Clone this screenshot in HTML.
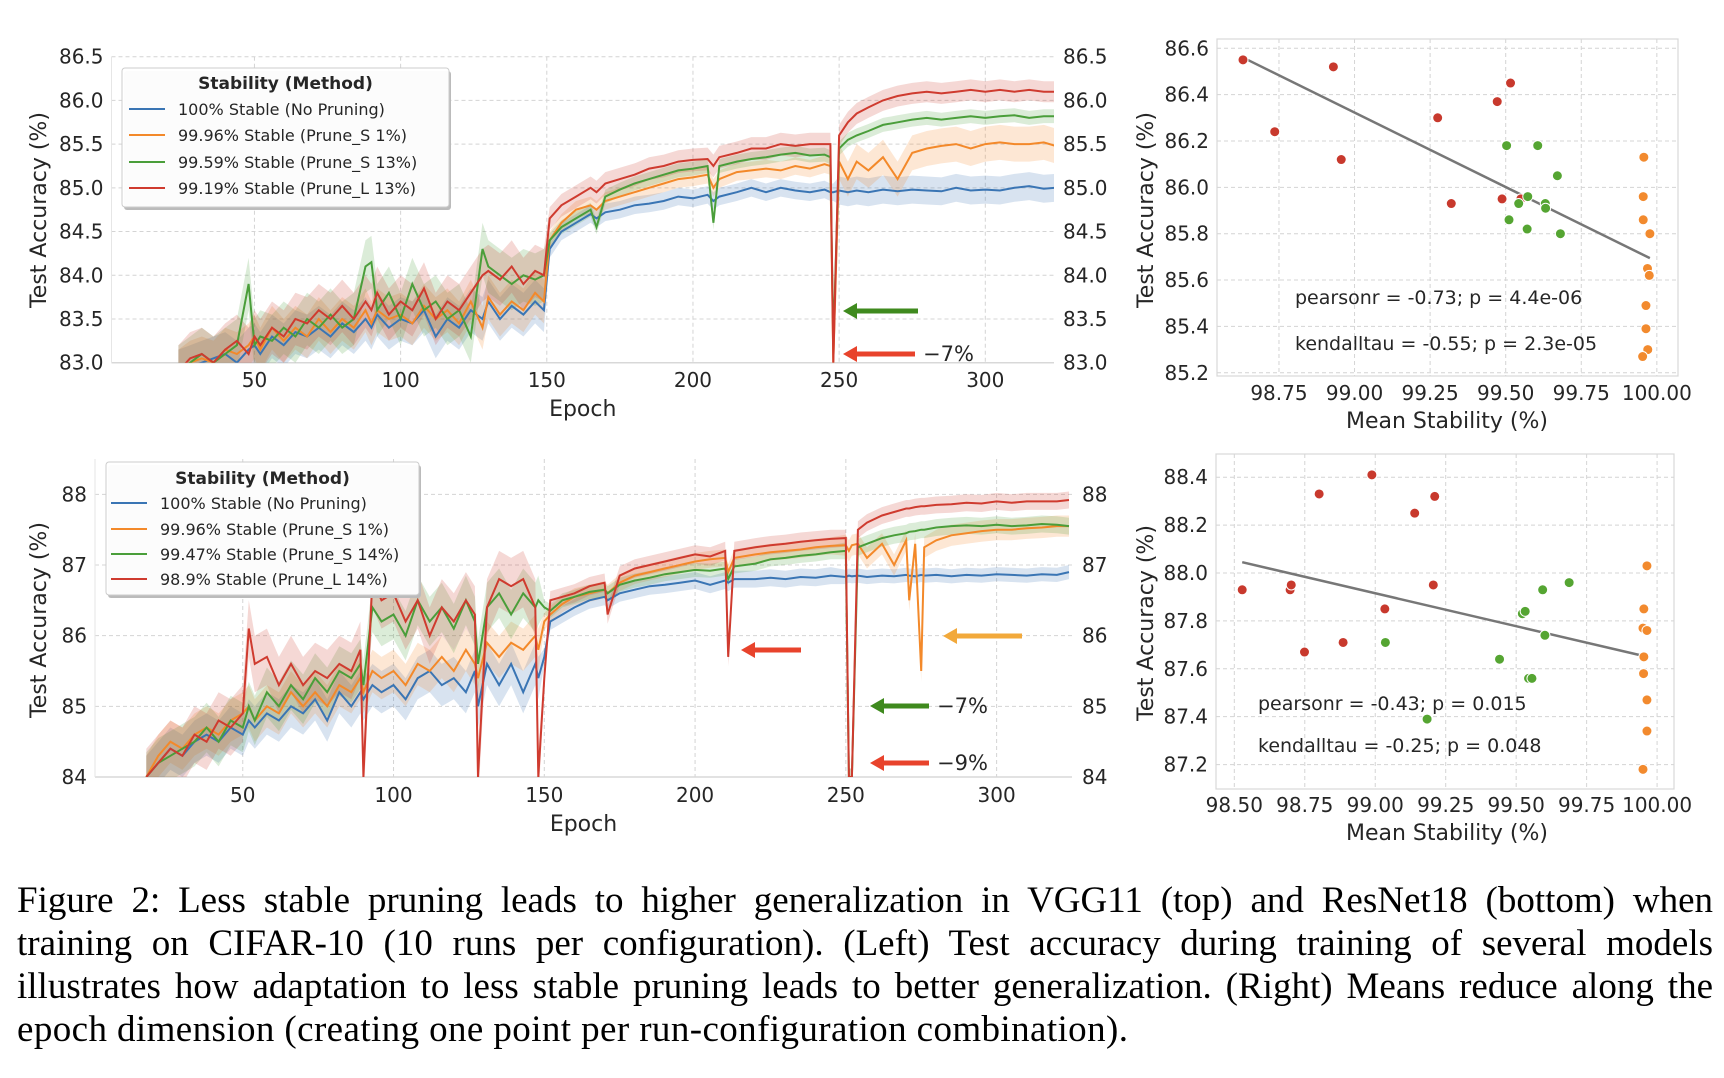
<!DOCTYPE html>
<html><head><meta charset="utf-8"><style>
html,body{margin:0;padding:0;background:#fff;}
#fig{position:absolute;left:0;top:0;}
.cap{position:absolute;left:17px;width:1696px;font-family:"Liberation Serif",serif;font-size:37px;line-height:43px;color:#000;white-space:nowrap;}
.just{text-align:justify;text-align-last:justify;white-space:normal;}
</style></head><body>
<svg id="fig" width="1724" height="880" xmlns="http://www.w3.org/2000/svg" font-family="DejaVu Sans, sans-serif"></svg>
<div class="cap just" style="top:879px">Figure 2: Less stable pruning leads to higher generalization in VGG11 (top) and ResNet18 (bottom) when</div>
<div class="cap just" style="top:922px">training on CIFAR-10 (10 runs per configuration). (Left) Test accuracy during training of several models</div>
<div class="cap just" style="top:965px">illustrates how adaptation to less stable pruning leads to better generalization. (Right) Means reduce along the</div>
<div class="cap" style="top:1008px;letter-spacing:0.4px">epoch dimension (creating one point per run-configuration combination).</div>
<script>
// ---------- DATA ----------
const colors=["#3a75b4","#f3892a","#4a9e3a","#cf3b2f"];
const topLegend=["100% Stable (No Pruning)","99.96% Stable (Prune_S 1%)","99.59% Stable (Prune_S 13%)","99.19% Stable (Prune_L 13%)"];
const botLegend=["100% Stable (No Pruning)","99.96% Stable (Prune_S 1%)","99.47% Stable (Prune_S 14%)","98.9% Stable (Prune_L 14%)"];
const topEpochs=[24,28,32,36,40,44,48,50,52,56,60,64,68,72,76,80,84,88,90,92,96,100,104,108,112,116,120,124,128,130,134,138,142,146,149,151,155,160,165,167,170,175,180,185,190,195,200,205,207,209,215,220,225,230,235,240,245,247,248,250,253,256,260,265,270,275,280,285,290,295,300,305,310,315,320,324];
const topBlue=[82.9,82.95,83.0,83.05,83.1,83.0,83.15,83.2,83.1,83.3,83.2,83.35,83.3,83.4,83.3,83.45,83.35,83.5,83.4,83.55,83.4,83.5,83.45,83.6,83.3,83.5,83.4,83.6,83.5,83.7,83.5,83.65,83.55,83.7,83.6,84.3,84.5,84.6,84.7,84.65,84.72,84.75,84.8,84.82,84.85,84.9,84.88,84.92,84.85,84.9,84.95,85.0,84.95,85.0,84.97,84.95,84.98,84.95,84.95,84.97,84.95,84.97,84.95,84.98,84.96,84.98,84.97,84.96,85.0,84.97,84.98,84.97,85.0,85.02,84.99,85.0];
const topOrange=[82.9,83.0,83.05,83.0,83.15,83.1,83.2,83.3,83.15,83.4,83.25,83.4,83.3,83.5,83.35,83.5,83.4,83.6,83.45,83.6,83.5,83.55,83.45,83.65,83.5,83.6,83.45,83.7,83.4,83.75,83.55,83.7,83.6,83.8,83.7,84.4,84.6,84.75,84.8,84.75,84.85,84.9,84.95,85.0,85.05,85.1,85.12,85.15,85.0,85.1,85.18,85.2,85.22,85.2,85.25,85.22,85.27,85.25,83.0,85.3,85.1,85.3,85.2,85.35,85.1,85.4,85.45,85.48,85.5,85.45,85.5,85.52,85.5,85.5,85.52,85.48];
const topGreen=[82.9,83.0,83.1,83.0,83.1,83.2,83.9,83.2,83.3,83.25,83.4,83.3,83.5,83.4,83.55,83.4,83.5,84.1,84.15,83.6,83.8,83.5,83.9,83.6,83.7,83.5,83.6,83.3,84.3,84.1,84.0,83.9,84.0,83.95,84.0,84.4,84.55,84.65,84.75,84.55,84.9,84.98,85.05,85.1,85.15,85.2,85.22,85.25,84.6,85.25,85.3,85.33,85.35,85.38,85.4,85.37,85.38,85.35,83.2,85.45,85.55,85.6,85.65,85.72,85.75,85.78,85.8,85.78,85.8,85.82,85.8,85.82,85.83,85.8,85.82,85.82];
const topRed=[82.9,83.05,83.1,83.0,83.15,83.25,83.1,83.3,83.2,83.4,83.3,83.5,83.45,83.6,83.5,83.65,83.5,83.7,83.6,83.8,83.55,83.7,83.6,83.85,83.5,83.7,83.6,83.8,84.0,84.05,83.95,84.1,83.9,84.05,84.0,84.65,84.8,84.9,85.0,84.95,85.05,85.1,85.15,85.22,85.25,85.3,85.32,85.33,85.25,85.35,85.4,85.45,85.45,85.5,85.48,85.5,85.5,85.5,83.0,85.6,85.75,85.85,85.92,86.0,86.05,86.08,86.1,86.08,86.1,86.12,86.1,86.12,86.1,86.12,86.1,86.1];
const topBandEarly=[0.25,0.25,0.3,0.3], topBandMid=[0.1,0.1,0.08,0.13], topBandLate=[0.16,0.2,0.08,0.12];
const topYTicks=[83.0,83.5,84.0,84.5,85.0,85.5,86.0,86.5];
const epochTicks=[50,100,150,200,250,300];

const botEpochs=[18,22,26,30,34,38,42,46,50,52,54,58,62,66,70,74,78,82,86,89,90,93,96,100,104,108,112,116,120,124,127,128,131,135,139,143,147,148,150,152,156,160,165,170,171,175,180,185,190,195,200,205,210,211,213,220,225,230,235,240,245,250,251,252,254,257,262,266,270,271,273,275,276,280,285,290,295,300,305,310,315,320,324];
const botBlue=[84.0,84.2,84.4,84.3,84.5,84.6,84.5,84.7,84.6,84.8,84.7,84.9,84.8,85.0,84.9,85.1,84.8,85.2,85.0,85.2,85.1,85.3,85.2,85.3,85.1,85.4,85.5,85.3,85.4,85.2,85.5,85.0,85.6,85.3,85.6,85.2,85.6,85.4,85.7,86.2,86.3,86.4,86.5,86.55,86.5,86.6,86.65,86.7,86.72,86.75,86.78,86.72,86.78,86.75,86.8,86.8,86.82,86.8,86.83,86.82,86.85,86.83,86.85,86.84,86.85,86.83,86.85,86.84,86.86,86.85,86.84,86.86,86.85,86.86,86.84,86.86,86.85,86.87,86.86,86.85,86.87,86.86,86.9];
const botOrange=[84.0,84.3,84.5,84.4,84.6,84.7,84.6,84.8,84.9,85.0,84.8,85.0,84.9,85.2,85.0,85.2,85.0,85.3,85.2,85.4,85.2,85.5,85.4,85.5,85.3,85.6,85.5,85.7,85.5,85.8,85.6,85.4,85.9,85.7,85.9,85.8,86.0,85.8,86.2,86.3,86.45,86.55,86.6,86.65,86.6,86.75,86.85,86.9,86.95,87.0,87.05,87.08,87.1,86.9,87.1,87.15,87.18,87.2,87.22,87.25,87.27,87.28,87.2,87.28,87.3,87.1,87.3,87.0,87.35,86.5,87.3,85.5,87.25,87.35,87.42,87.45,87.48,87.5,87.5,87.52,87.53,87.55,87.55];
const botGreen=[84.0,84.2,84.3,84.4,84.5,84.7,84.5,84.8,84.7,85.0,84.8,85.2,85.0,85.3,85.1,85.4,85.2,85.5,85.4,85.6,85.3,86.4,86.2,86.3,86.0,86.5,86.2,86.4,86.1,86.5,86.2,85.6,86.4,86.6,86.3,86.6,86.4,86.5,86.4,86.35,86.5,86.55,86.62,86.65,86.6,86.72,86.78,86.82,86.87,86.9,86.93,86.92,86.95,86.8,86.98,87.02,87.08,87.1,87.13,87.15,87.18,87.2,84.0,84.0,87.25,87.3,87.38,87.42,87.45,87.47,87.48,87.5,87.5,87.53,87.55,87.56,87.55,87.57,87.55,87.56,87.58,87.57,87.55];
const botRed=[84.0,84.2,84.4,84.3,84.6,84.5,84.8,84.7,84.9,86.1,85.6,85.7,85.3,85.6,85.3,85.5,85.4,85.6,85.5,85.8,84.0,86.8,86.5,86.6,86.2,86.5,86.0,86.4,86.2,86.5,86.3,84.0,86.4,86.8,86.7,86.8,86.4,84.0,85.4,86.5,86.55,86.6,86.7,86.75,86.3,86.85,86.95,87.0,87.05,87.1,87.15,87.12,87.2,85.7,87.2,87.25,87.28,87.3,87.33,87.35,87.37,87.38,84.0,84.0,87.5,87.6,87.7,87.75,87.8,87.8,87.82,87.83,87.83,87.85,87.86,87.88,87.87,87.9,87.88,87.9,87.9,87.9,87.92];
const botBandEarly=[0.3,0.3,0.35,0.4], botBandMid=[0.12,0.12,0.1,0.13], botBandLate=[0.1,0.15,0.12,0.12];
const botYTicks=[84,85,86,87,88];

const sTopRedX=[98.631,98.736,98.93,98.956,99.275,99.32,99.472,99.516,99.488,99.55];
const sTopRedY=[86.55,86.24,86.52,86.12,86.30,85.93,86.37,86.45,85.95,85.95];
const sTopGreenX=[99.503,99.606,99.671,99.573,99.543,99.631,99.632,99.511,99.571,99.681];
const sTopGreenY=[86.18,86.18,86.05,85.96,85.93,85.93,85.91,85.86,85.82,85.80];
const sTopOrangeX=[99.957,99.955,99.955,99.977,99.969,99.975,99.964,99.964,99.97,99.953];
const sTopOrangeY=[86.13,85.96,85.86,85.80,85.65,85.62,85.49,85.39,85.30,85.27];
const sTopXTicks=[98.75,99.00,99.25,99.50,99.75,100.00];
const sTopYTicks=[85.2,85.4,85.6,85.8,86.0,86.2,86.4,86.6];

const sBotRedX=[98.528,98.698,98.702,98.801,98.749,98.886,98.988,99.034,99.14,99.211,99.206];
const sBotRedY=[87.93,87.93,87.95,88.33,87.67,87.71,88.41,87.85,88.25,88.32,87.95];
const sBotGreenX=[99.036,99.184,99.441,99.522,99.532,99.544,99.556,99.594,99.602,99.688];
const sBotGreenY=[87.71,87.39,87.64,87.83,87.84,87.56,87.56,87.93,87.74,87.96];
const sBotOrangeX=[99.964,99.953,99.95,99.964,99.953,99.952,99.964,99.964,99.95];
const sBotOrangeY=[88.03,87.85,87.77,87.76,87.65,87.58,87.47,87.34,87.18];
const sBotXTicks=[98.50,98.75,99.00,99.25,99.50,99.75,100.00];
const sBotYTicks=[87.2,87.4,87.6,87.8,88.0,88.2,88.4];
const scatterColors=["#c8392d","#55a532","#f28a2e"];

// ---------- DRAW ----------
const NS="http://www.w3.org/2000/svg";
const svgRoot=document.getElementById('fig');
function mk(tag,attrs,parent){const e=document.createElementNS(NS,tag);for(const k in attrs)e.setAttribute(k,attrs[k]);(parent||svgRoot).appendChild(e);return e;}
function txt(s,attrs,parent){const e=mk('text',attrs,parent);e.textContent=s;return e;}
function lin(d0,d1,r0,r1){return v=>r0+(v-d0)/(d1-d0)*(r1-r0);}

function lineChart(o){
  const g=mk('g',{});
  
  
  const X=lin(o.xd[0],o.xd[1],o.L,o.R), Y=lin(o.yd[0],o.yd[1],o.B,o.T);
  const cid=o.name+'-clip';
  const cp=mk('clipPath',{id:cid},g); mk('rect',{x:o.L,y:o.T,width:o.R-o.L,height:o.B-o.T},cp);
  const grid=mk('g',{stroke:'#d4d4d4','stroke-width':1,'stroke-dasharray':'4,3'},g);
  
  
  o.xt.forEach(t=>{mk('line',{x1:X(t),x2:X(t),y1:o.T,y2:o.B},grid);});
  o.yt.forEach(t=>{mk('line',{x1:o.L,x2:o.R,y1:Y(t),y2:Y(t)},grid);});
  mk('line',{x1:o.L,x2:o.R,y1:o.B,y2:o.B,stroke:'#d8d8d8','stroke-width':1.5},g);
  mk('line',{x1:o.L,x2:o.L,y1:o.T,y2:o.B,stroke:'#e6e6e6','stroke-width':1},g);
  const data=mk('g',{'clip-path':'url(#'+cid+')'},g);
  o.series.forEach((vals,si)=>{
    const hw=e=>e<150?o.bE[si]:(e<250?o.bM[si]:o.bL[si]);
    let up='',lo='';
    o.ep.forEach((e,i)=>{up+=(i?'L':'M')+X(e).toFixed(1)+','+Y(vals[i]+hw(e)).toFixed(1);});
    for(let i=o.ep.length-1;i>=0;i--){lo+='L'+X(o.ep[i]).toFixed(1)+','+Y(vals[i]-hw(o.ep[i])).toFixed(1);}
    const b=mk('path',{d:up+lo+'Z',fill:colors[si],'fill-opacity':0.2,stroke:'none'},data);
    
    
  });
  o.series.forEach((vals,si)=>{
    let d='';o.ep.forEach((e,i)=>{d+=(i?'L':'M')+X(e).toFixed(1)+','+Y(vals[i]).toFixed(1);});
    const p=mk('path',{d:d,fill:'none',stroke:colors[si],'stroke-width':2},data);
    
    
  });
  o.xt.forEach(t=>{const e=txt(String(t),{x:X(t),y:o.xty,'text-anchor':'middle','font-size':20,fill:'#262626'},g);
    
    });
  o.yt.forEach(t=>{const s=t.toFixed(o.dec);
    const a=txt(s,{x:o.L-8,y:Y(t)+7,'text-anchor':'end','font-size':20,fill:'#262626'},g);
    
    
    const b=txt(s,{x:o.rx,y:Y(t)+7,'font-size':20,fill:'#262626'},g);
    
    });
  const xl=txt('Epoch',{x:(o.L+o.R)/2,y:o.xly,'text-anchor':'middle','font-size':22,fill:'#262626'},g);
  
  
  const yl=txt('Test Accuracy (%)',{x:0,y:0,'text-anchor':'middle','font-size':22,fill:'#262626',transform:'translate(46,'+o.ylc+') rotate(-90)'},g);
  
  
  const lg=mk('g',{},g);
  
  
  const Lb=o.leg;
  mk('rect',{x:Lb.x+2,y:Lb.y+3,width:Lb.w,height:Lb.h,rx:3,fill:'#bbb'},lg);
  mk('rect',{x:Lb.x,y:Lb.y,width:Lb.w,height:Lb.h,rx:3,fill:'#fff','fill-opacity':0.95,stroke:'#ccc'},lg);
  const lt=txt('Stability (Method)',{x:Lb.x+Lb.w/2,y:Lb.ty+6,'text-anchor':'middle','font-size':17,'font-weight':'bold',fill:'#262626'},lg);
  
  
  o.labels.forEach((s,i)=>{const yy=Lb.ey[i];
    mk('line',{x1:Lb.sx,x2:Lb.sx+36,y1:yy,y2:yy,stroke:colors[i],'stroke-width':2},lg);
    const e=txt(s,{x:Lb.tx,y:yy+6,'font-size':16,fill:'#262626'},lg);
    
    });
  return {g,X,Y};
}
function arrow(parent,x1,x2,y,color,label){
  const a=mk('g',{},parent);
  
  
  mk('line',{x1:x1+10,x2:x2,y1:y,y2:y,stroke:color,'stroke-width':5},a);
  mk('polygon',{points:(x1)+','+y+' '+(x1+14)+','+(y-8)+' '+(x1+14)+','+(y+8),fill:color},a);
  if(label){const t=txt(label,{x:x2+8,y:y+7,'font-size':21,fill:'#262626'},a);
    
    }
}
const topChart=lineChart({name:'vgg11-accuracy-chart',L:111.5,R:1054,T:56.7,B:362.7,xd:[1.1,323.5],yd:[83,86.5],
  xt:epochTicks,yt:topYTicks,dec:1,xty:387,xly:416,rx:1063,ylc:210,ep:topEpochs,series:[topBlue,topOrange,topGreen,topRed],
  bE:topBandEarly,bM:topBandMid,bL:topBandLate,labels:topLegend,
  leg:{x:122,y:68,w:327,h:139,ty:83,ey:[109,135,162,188],sx:129,tx:178}});
arrow(topChart.g,843,918,311,'#3f8a1e',null);
arrow(topChart.g,843,915,354,'#e8432c','\u22127%');
const botChart=lineChart({name:'resnet18-accuracy-chart',L:95,R:1072,T:459,B:777,xd:[1,325],yd:[84,88.5],
  xt:epochTicks,yt:botYTicks,dec:0,xty:802,xly:831,rx:1082,ylc:620,ep:botEpochs,series:[botBlue,botOrange,botGreen,botRed],
  bE:botBandEarly,bM:botBandMid,bL:botBandLate,labels:botLegend,
  leg:{x:106,y:462,w:313,h:133,ty:478,ey:[503,529,554,579],sx:111,tx:160}});
arrow(botChart.g,741,801,650,'#e8432c',null);
arrow(botChart.g,943,1022,636,'#f2a93b',null);
arrow(botChart.g,870,929,706,'#3f8a1e','\u22127%');
arrow(botChart.g,870,929,763,'#e8432c','\u22129%');

function scatter(o){
  const g=mk('g',{});
  
  
  const X=lin(o.xd[0],o.xd[1],o.L,o.R), Y=lin(o.yd[0],o.yd[1],o.B,o.T);
  const grid=mk('g',{stroke:'#d4d4d4','stroke-width':1,'stroke-dasharray':'4,3'},g);
  
  
  o.xt.forEach(t=>{mk('line',{x1:X(t),x2:X(t),y1:o.T,y2:o.B},grid);});
  o.yt.forEach(t=>{mk('line',{x1:o.L,x2:o.R,y1:Y(t),y2:Y(t)},grid);});
  mk('rect',{x:o.L,y:o.T,width:o.R-o.L,height:o.B-o.T,fill:'none',stroke:'#d8d8d8','stroke-width':1.2},g);
  const ax=[].concat(...o.xs), ay=[].concat(...o.ys);
  const n=ax.length, mx=ax.reduce((a,b)=>a+b)/n, my=ay.reduce((a,b)=>a+b)/n;
  let sxy=0,sxx=0;ax.forEach((x,i)=>{sxy+=(x-mx)*(ay[i]-my);sxx+=(x-mx)*(x-mx);});
  const sl=sxy/sxx, x0=Math.min(...ax), x1=Math.max(...ax);
  const fl=mk('line',{x1:X(x0),y1:Y(my+sl*(x0-mx)),x2:X(x1),y2:Y(my+sl*(x1-mx)),stroke:'#777','stroke-width':2.5},g);
  
  
  o.xs.forEach((xs,si)=>{xs.forEach((x,i)=>{
    const c=mk('circle',{cx:X(x),cy:Y(o.ys[si][i]),r:5,fill:scatterColors[si],stroke:'#fff','stroke-width':1},g);
    
    });});
  o.xt.forEach(t=>{const e=txt(t.toFixed(2),{x:X(t),y:o.xty,'text-anchor':'middle','font-size':20,fill:'#262626'},g);
    
    });
  o.yt.forEach(t=>{const e=txt(t.toFixed(1),{x:o.L-8,y:Y(t)+7,'text-anchor':'end','font-size':20,fill:'#262626'},g);
    
    });
  const xl=txt('Mean Stability (%)',{x:1447,y:o.xly,'text-anchor':'middle','font-size':22,fill:'#262626'},g);
  
  
  const yl=txt('Test Accuracy (%)',{x:0,y:0,'text-anchor':'middle','font-size':22,fill:'#262626',transform:'translate(1153,'+o.ylc+') rotate(-90)'},g);
  
  
  const p=txt(o.pt,{x:o.tx,y:o.py+7,'font-size':19,fill:'#262626'},g);
  
  
  const k=txt(o.kt,{x:o.tx,y:o.ky+7,'font-size':19,fill:'#262626'},g);
  
  
}
scatter({name:'vgg11-stability-scatter',L:1217,R:1678,T:39,B:376,xd:[98.545,100.07],yd:[85.186,86.64],
  xt:sTopXTicks,yt:sTopYTicks,xs:[sTopRedX,sTopGreenX,sTopOrangeX],ys:[sTopRedY,sTopGreenY,sTopOrangeY],
  xty:400,xly:428,ylc:210,tx:1295,py:297,ky:343,pt:'pearsonr = -0.73; p = 4.4e-06',kt:'kendalltau = -0.55; p = 2.3e-05'});
scatter({name:'resnet18-stability-scatter',L:1216,R:1674,T:454,B:789,xd:[98.435,100.06],yd:[87.098,88.497],
  xt:sBotXTicks,yt:sBotYTicks,xs:[sBotRedX,sBotGreenX,sBotOrangeX],ys:[sBotRedY,sBotGreenY,sBotOrangeY],
  xty:812,xly:840,ylc:623,tx:1258,py:703,ky:745,pt:'pearsonr = -0.43; p = 0.015',kt:'kendalltau = -0.25; p = 0.048'});
</script>
</body></html>
